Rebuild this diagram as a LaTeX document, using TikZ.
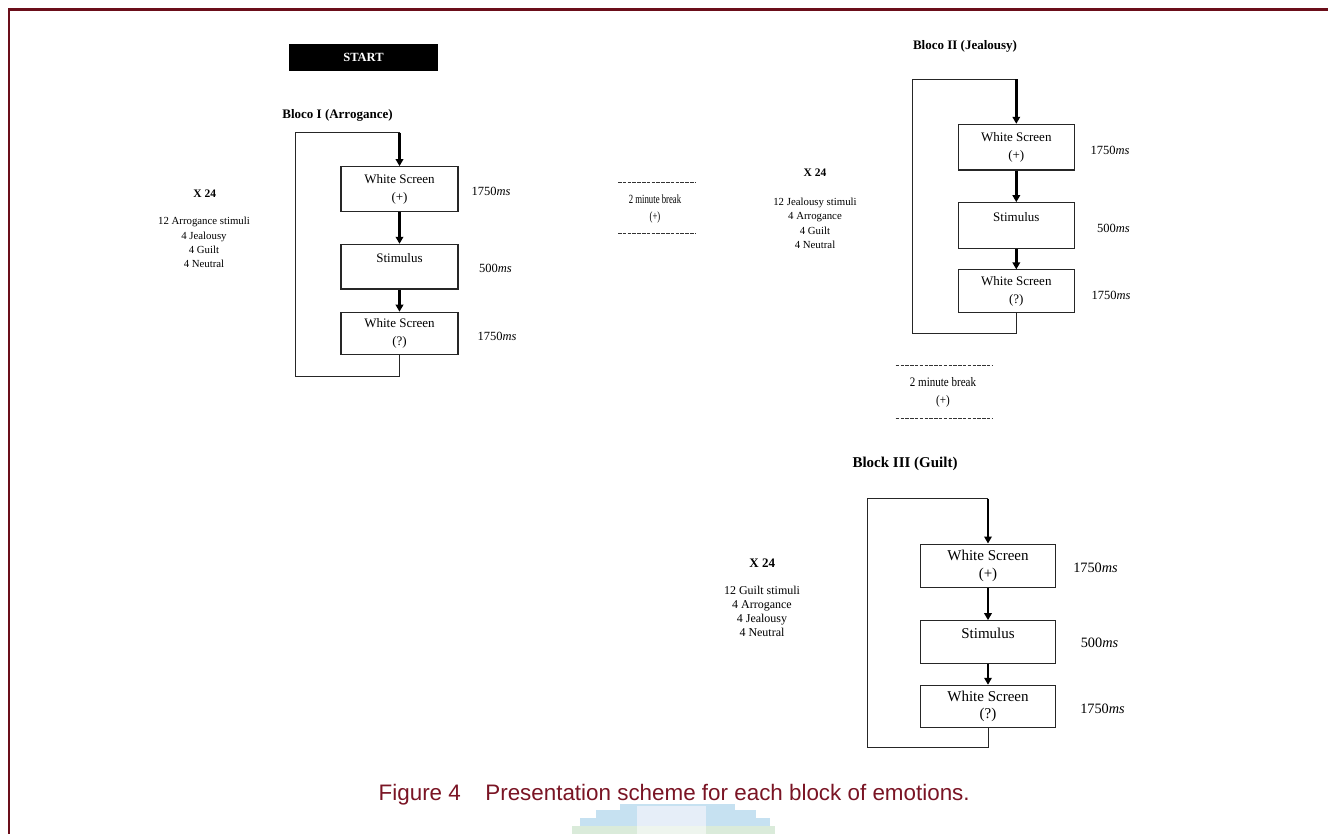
\documentclass[tikz,border=0pt]{standalone}
\usepackage{fontspec}
\usepackage{graphicx}
\setmainfont{Liberation Serif}
\newfontfamily\capfont{Liberation Sans}
\usetikzlibrary{arrows.meta}
\definecolor{framered}{HTML}{6B0E1A}
\definecolor{captxt}{HTML}{7A1424}
\definecolor{wmblue}{HTML}{C6E1F1}
\definecolor{wmpale}{HTML}{E6EEF8}
\definecolor{wmgreen}{HTML}{DAEBDA}
\definecolor{wmpalegreen}{HTML}{EEF5EE}
\begin{document}
\begin{tikzpicture}[x=1pt,y=-1pt,
  box/.style={draw=black!85,line width=1.1pt,inner sep=0pt,align=center},
  boxfont/.style={font=\fontsize{13}{18}\selectfont},
  boxfontL/.style={font=\fontsize{15}{17.4}\selectfont},
  loopline/.style={draw=black!85,line width=1pt},
  flow/.style={draw=black,line width=2.4pt,-{Triangle[length=7pt,width=7.5pt]}},
  timing/.style={font=\fontsize{12.5}{14}\selectfont},
  timingL/.style={font=\fontsize{14.3}{16}\selectfont},
  count/.style={font=\bfseries\fontsize{11.5}{13}\selectfont},
  mix/.style={align=center,font=\fontsize{10.8}{14.2}\selectfont},
  title/.style={font=\bfseries\fontsize{13}{15}\selectfont},
  dashline/.style={draw=black!80,line width=0.9pt,dash pattern=on 3.5pt off 1.3pt},
]
\useasboundingbox (0,0) rectangle (1328,834);
\fill[white] (0,0) rectangle (1328,834);

% watermark remnant
\fill[wmblue] (620,804) rectangle (735,834);
\fill[wmblue] (596,810) rectangle (756,834);
\fill[wmblue] (580,818) rectangle (770,834);
\fill[wmpale] (637,806) rectangle (706,834);
\fill[wmgreen] (572,826) rectangle (775,834);
\fill[wmpalegreen] (637,826) rectangle (706,834);

% frame
\coordinate (fbl) at (8.8,834);
\coordinate (ftl) at (8.8,9.3);
\coordinate (ftr) at (1328,9.3);
\draw[framered,line width=2.5pt] (fbl) -- (ftl) -- (ftr);

% START
\node[fill=black,minimum width=149pt,minimum height=27pt,inner sep=0pt,text=white,
  font=\bfseries\fontsize{12.5}{14}\selectfont] (start) at (363.5,57.5) {START};

% ---------------- Block I ----------------
\node[title] (It) at (337.5,115) {Bloco I (Arrogance)};
\node[box,boxfont,minimum width=117pt,minimum height=45pt] (Ia) at (399.5,189.2) {White Screen\\(+)};
\node[box,boxfont,minimum width=117pt,minimum height=44.7pt] (Ib) at (399.5,266.7) {Stimulus\\\mbox{}};
\node[box,boxfont,minimum width=117pt,minimum height=42pt] (Ic) at (399.5,333.3) {White Screen\\(?)};
\coordinate (Ibl) at (295,376);
\coordinate (Itr) at (399.5,132.7);
\draw[loopline] (Ic.south) |- (Ibl) |- (Itr);
\draw[flow] (Itr) -- (Ia.north);
\draw[flow] (Ia.south) -- (Ib.north);
\draw[flow] (Ib.south) -- (Ic.north);
\node[timing] (Ita) at (491,191.7) {1750\textit{ms}};
\node[timing] (Itb) at (495.5,268) {500\textit{ms}};
\node[timing] (Itc) at (497,336) {1750\textit{ms}};
\node[count] (Ix) at (204.7,194) {X 24};
\node[mix] (Im) at (204,242.5) {12 Arrogance stimuli\\4 Jealousy\\4 Guilt\\4 Neutral};

% break 1
\node[align=center,font=\fontsize{12.5}{17.7}\selectfont] (B1) at (655,209)
  {\scalebox{0.7}[1]{2 minute break}\\\scalebox{0.7}[1]{(+)}};
\coordinate (B1tl) at (618,182.7);
\coordinate (B1tr) at (695,182.7);
\coordinate (B1bl) at (618,233);
\coordinate (B1br) at (695,233);
\draw[dashline] (B1tl) -- (B1tr);
\draw[dashline] (B1bl) -- (B1br);

% ---------------- Block II ----------------
\node[title] (IIt) at (965,46) {Bloco II (Jealousy)};
\node[box,boxfont,minimum width=116pt,minimum height=45.7pt] (IIa) at (1016.3,147.2) {White Screen\\(+)};
\node[box,boxfont,minimum width=116pt,minimum height=46pt] (IIb) at (1016.3,225.7) {Stimulus\\\mbox{}};
\node[box,boxfont,minimum width=116pt,minimum height=42.7pt] (IIc) at (1016.3,291.3) {White Screen\\(?)};
\coordinate (IIbl) at (912.3,334);
\coordinate (IItr) at (1016.3,79.3);
\draw[loopline] (IIc.south) |- (IIbl) |- (IItr);
\draw[flow] (IItr) -- (IIa.north);
\draw[flow] (IIa.south) -- (IIb.north);
\draw[flow] (IIb.south) -- (IIc.north);
\node[timing] (IIta) at (1110,150) {1750\textit{ms}};
\node[timing] (IItb) at (1113.5,228) {500\textit{ms}};
\node[timing] (IItc) at (1111,295.5) {1750\textit{ms}};
\node[count] (IIx) at (815,172.7) {X 24};
\node[mix] (IIm) at (815,223.3) {12 Jealousy stimuli\\4 Arrogance\\4 Guilt\\4 Neutral};

% break 2
\node[align=center,font=\fontsize{13}{18.7}\selectfont] (B2) at (943,392.3)
  {\scalebox{0.85}[1]{2 minute break}\\\scalebox{0.85}[1]{(+)}};
\coordinate (B2tl) at (895.7,365.7);
\coordinate (B2tr) at (993,365.7);
\coordinate (B2bl) at (895.7,418);
\coordinate (B2br) at (993,418);
\draw[dashline] (B2tl) -- (B2tr);
\draw[dashline] (B2bl) -- (B2br);

% ---------------- Block III ----------------
\node[title,font=\bfseries\fontsize{15}{17}\selectfont] (IIIt) at (905,464) {Block III (Guilt)};
\node[box,boxfontL,minimum width=135.4pt,minimum height=43.3pt] (IIIa) at (988,565.7) {White Screen\\(+)};
\node[box,boxfontL,minimum width=135.4pt,minimum height=42.6pt] (IIIb) at (988,642) {Stimulus\\\mbox{}};
\node[box,boxfontL,minimum width=135.4pt,minimum height=42pt] (IIIc) at (988,706.3) {White Screen\\(?)};
\coordinate (IIIbl) at (867.3,747.3);
\coordinate (IIItr) at (988,498.7);
\draw[loopline] (IIIc.south) |- (IIIbl) |- (IIItr);
\draw[flow] (IIItr) -- (IIIa.north);
\draw[flow] (IIIa.south) -- (IIIb.north);
\draw[flow] (IIIb.south) -- (IIIc.north);
\node[timingL] (IIIta) at (1095.5,567.7) {1750\textit{ms}};
\node[timingL] (IIItb) at (1099.5,643.3) {500\textit{ms}};
\node[timingL] (IIItc) at (1102.5,709.3) {1750\textit{ms}};
\node[count,font=\bfseries\fontsize{13}{15}\selectfont] (IIIx) at (762.3,563.3) {X 24};
\node[mix,font=\fontsize{12}{14.1}\selectfont] (IIIm) at (762,611.2) {12 Guilt stimuli\\4 Arrogance\\4 Jealousy\\4 Neutral};

% caption
\node[anchor=base west,inner sep=0pt,text=captxt,font=\capfont\fontsize{22.4}{26}\selectfont] (cap)
  at (378.5,800.7) {Figure 4\hspace{24.5pt}Presentation scheme for each block of emotions.};
\end{tikzpicture}
\end{document}
